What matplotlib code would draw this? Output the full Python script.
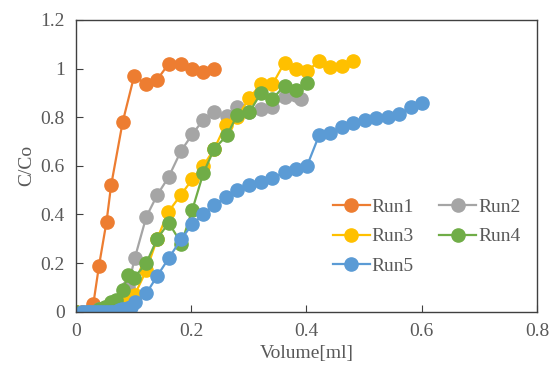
import matplotlib
matplotlib.use("Agg")
import matplotlib.pyplot as plt

# Run data (Volume [ml], C/Co)
run1_x = [0.0, 0.01, 0.02, 0.03, 0.04, 0.053, 0.061, 0.081, 0.101, 0.122, 0.141, 0.161, 0.182, 0.202, 0.221, 0.240]
run1_y = [0.0, 0.0, 0.0, 0.03, 0.19, 0.37, 0.52, 0.78, 0.97, 0.935, 0.955, 1.02, 1.02, 1.0, 0.985, 1.0]

run2_x = [0.0, 0.02, 0.04, 0.06, 0.08, 0.09, 0.102, 0.122, 0.141, 0.161, 0.182, 0.202, 0.221, 0.240, 0.262,
          0.280, 0.301, 0.321, 0.341, 0.362, 0.381, 0.391]
run2_y = [0.0, 0.0, 0.01, 0.02, 0.04, 0.10, 0.22, 0.39, 0.48, 0.555, 0.66, 0.73, 0.79, 0.82, 0.805,
          0.84, 0.82, 0.835, 0.84, 0.885, 0.89, 0.875]

run3_x = [0.0, 0.02, 0.04, 0.06, 0.08, 0.09, 0.102, 0.122, 0.141, 0.160, 0.182, 0.202, 0.221, 0.240, 0.260,
          0.280, 0.301, 0.321, 0.341, 0.362, 0.381, 0.401, 0.422, 0.441, 0.461, 0.481]
run3_y = [0.0, 0.0, 0.0, 0.01, 0.02, 0.04, 0.07, 0.17, 0.30, 0.41, 0.48, 0.545, 0.60, 0.67, 0.77,
          0.80, 0.88, 0.935, 0.935, 1.025, 1.0, 0.99, 1.03, 1.005, 1.01, 1.03]

run4_x = [0.0, 0.02, 0.04, 0.05, 0.06, 0.07, 0.081, 0.091, 0.101, 0.122, 0.141, 0.161, 0.183, 0.202, 0.221,
          0.240, 0.262, 0.280, 0.301, 0.321, 0.341, 0.362, 0.381, 0.401]
run4_y = [0.0, 0.0, 0.01, 0.02, 0.04, 0.05, 0.09, 0.15, 0.14, 0.20, 0.30, 0.366, 0.28, 0.42, 0.57,
          0.67, 0.725, 0.81, 0.82, 0.90, 0.875, 0.93, 0.91, 0.94]

run5_x = [0.01, 0.015, 0.02, 0.025, 0.03, 0.035, 0.04, 0.045, 0.05, 0.055, 0.06, 0.065, 0.07, 0.075, 0.08,
          0.085, 0.09, 0.095, 0.102, 0.122, 0.141, 0.161, 0.183, 0.202, 0.221, 0.240, 0.260, 0.280, 0.301,
          0.321, 0.341, 0.362, 0.381, 0.401, 0.422, 0.441, 0.461, 0.481, 0.502, 0.521, 0.541, 0.561, 0.582, 0.601]
run5_y = [0.0, 0.0, 0.0, 0.0, 0.0, 0.0, 0.0, 0.0, 0.0, 0.0, 0.0, 0.0, 0.0, 0.005, 0.01,
          0.01, 0.015, 0.02, 0.04, 0.075, 0.147, 0.22, 0.30, 0.36, 0.40, 0.44, 0.47, 0.50, 0.52,
          0.534, 0.55, 0.573, 0.587, 0.60, 0.726, 0.736, 0.758, 0.778, 0.79, 0.795, 0.80, 0.815, 0.84, 0.86]

runs = [("Run1", run1_x, run1_y, "#ED7D31"),
        ("Run2", run2_x, run2_y, "#A5A5A5"),
        ("Run3", run3_x, run3_y, "#FFC000"),
        ("Run4", run4_x, run4_y, "#70AD47"),
        ("Run5", run5_x, run5_y, "#5B9BD5")]

plt.rcParams['font.family'] = ['Liberation Serif', 'DejaVu Serif']
txt = '#595959'

fig = plt.figure(figsize=(5.49, 3.68), dpi=100)
ax = fig.add_axes([0.1384, 0.153, 0.8396, 0.7927])

lines = {}
for name, xs, ys, col in runs:
    lines[name], = ax.plot(xs, ys, '-o', color=col, markersize=9.5, linewidth=1.6, label=name)

ax.set_xlim(0, 0.8)
ax.set_ylim(0, 1.2)
ax.set_xticks([0, 0.2, 0.4, 0.6, 0.8])
ax.set_xticklabels(['0', '0.2', '0.4', '0.6', '0.8'])
ax.set_yticks([0, 0.2, 0.4, 0.6, 0.8, 1.0, 1.2])
ax.set_yticklabels(['0', '0.2', '0.4', '0.6', '0.8', '1', '1.2'])
ax.tick_params(direction='in', length=5, colors='#404040', labelcolor=txt, labelsize=14, pad=8)
for s in ax.spines.values():
    s.set_color('#404040')
    s.set_linewidth(1.0)
ax.set_xlabel('Volume[ml]', color=txt, fontsize=14, labelpad=4)
ax.set_ylabel('C/Co', color=txt, fontsize=14, labelpad=4)

# legend filled row by row like the original
order = ["Run1", "Run3", "Run5", "Run2", "Run4"]
leg = ax.legend([lines[n] for n in order], order, ncol=2, loc='lower left',
                bbox_to_anchor=(0.54, 0.10), frameon=False,
                fontsize=14, handlelength=1.9, columnspacing=1.3, handletextpad=0.1,
                labelspacing=0.6, borderaxespad=0.0)
for t in leg.get_texts():
    t.set_color(txt)

fig.savefig('out.png', dpi=100)
